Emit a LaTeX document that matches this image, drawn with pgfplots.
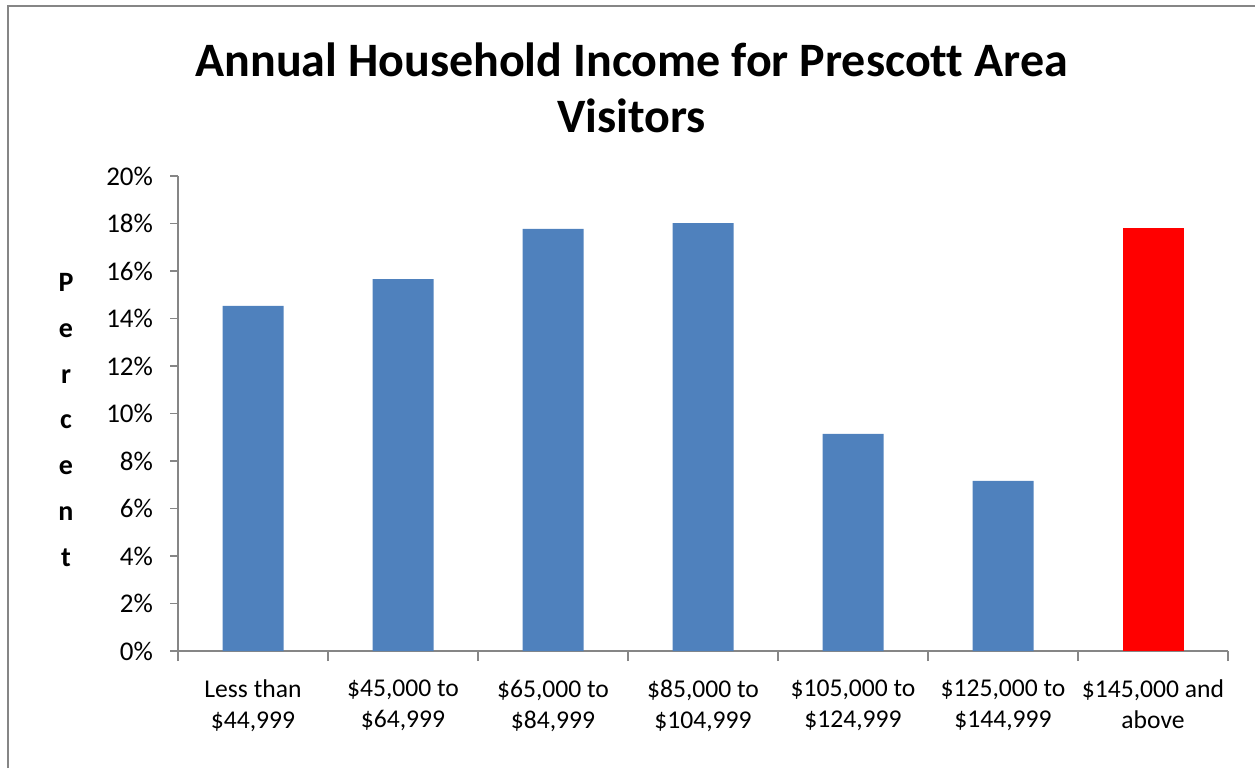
\documentclass[border=0pt]{standalone}
\usepackage{pgfplots}
\pgfplotsset{compat=1.18}
\usepackage{fontspec}
\setmainfont[Ligatures=NoCommon]{Carlito}
\definecolor{barblue}{HTML}{4F81BD}
\definecolor{barred}{HTML}{FF0000}
\definecolor{axisgray}{HTML}{868686}

\begin{document}
\begin{tikzpicture}[x=1pt,y=1pt]
\useasboundingbox (0,0) rectangle (627.5,384);
% chart frame (left and top edges)
\draw[axisgray, line width=1.4pt] (4,0) -- (4,381) -- (627.5,381);

\begin{axis}[
  at={(89pt,58.5pt)}, anchor=south west,
  scale only axis,
  width=525pt, height=237.5pt,
  xmin=-0.5, xmax=6.5,
  ymin=0, ymax=20,
  axis x line=bottom, axis y line=left,
  axis line style={-, axisgray, line width=0.8pt},
  xtick={0,...,6},
  xticklabels={{Less than\\\$44,999},{\$45,000 to\\\$64,999},{\$65,000 to\\\$84,999},{\$85,000 to\\\$104,999},{\$105,000 to\\\$124,999},{\$125,000 to\\\$144,999},{\$145,000 and\\above}},
  xticklabel style={align=center, font=\fontsize{12.8}{15.5}\selectfont, text=black, yshift=-7pt},
  minor xtick={-0.5,0.5,...,6.5},
  major x tick style={draw=none},
  minor x tick style={axisgray, line width=0.8pt},
  minor tick length=5pt,
  ytick={0,2,...,20},
  yticklabels={0\%,2\%,4\%,6\%,8\%,10\%,12\%,14\%,16\%,18\%,20\%},
  yticklabel style={font=\fontsize{13.5}{15}\selectfont, text=black, xshift=-5pt},
  major y tick style={axisgray, line width=0.8pt},
  major tick length=4pt,
  tick align=outside,
  ybar, bar width=30.5pt, bar shift=0pt,
  clip=false,
]
\addplot[fill=barblue, draw=none, bar shift=0pt] coordinates {
  (0,14.53) (1,15.66) (2,17.77) (3,18.02) (4,9.14) (5,7.16)
};
\addplot[fill=barred, draw=none, bar shift=0pt] coordinates {(6,17.81)};
\end{axis}

% title
\node[align=center, font=\fontsize{24}{28}\selectfont\bfseries] at (315.8,340)
  {Annual Household Income for Prescott Area\\Visitors};
% vertical axis label, one letter per line
\node[align=center, font=\fontsize{14}{22.9}\selectfont\bfseries] at (33,174)
  {P\\e\\r\\c\\e\\n\\t};
\end{tikzpicture}
\end{document}
